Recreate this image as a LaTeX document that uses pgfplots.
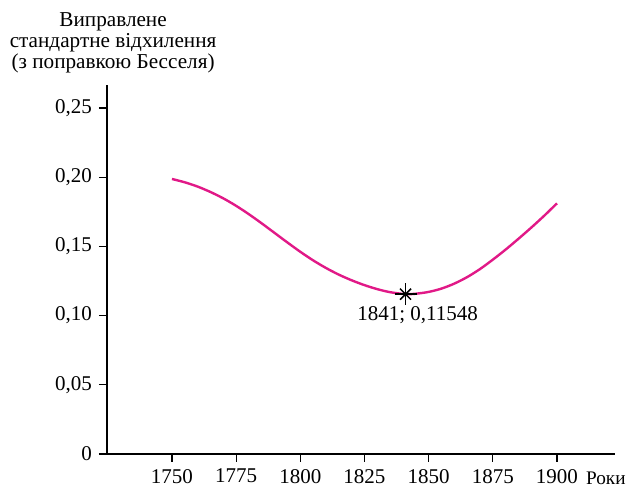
\documentclass[border=0pt]{standalone}
\usepackage{fontspec}
\setmainfont{Liberation Serif}
\usepackage{pgfplots}
\pgfplotsset{compat=1.18}
\definecolor{curve}{RGB}{225,25,135}

\begin{document}
\begin{tikzpicture}
\begin{axis}[
  name=ax,
  scale only axis,
  width=254pt,
  height=184.5pt,
  xmin=1724.7, xmax=1922.6,
  ymin=0, ymax=0.2666,
  axis lines=left,
  axis line style={-, line width=0.6pt},
  tick style={black, line width=0.6pt},
  tick align=outside,
  major tick length=4pt,
  xtick={1750,1775,1800,1825,1850,1875,1900},
  xticklabels={1750,1775,1800,1825,1850,1875,1900},
  ytick={0,0.05,0.1,0.15,0.2,0.25},
  yticklabels={0,{0,05},{0,10},{0,15},{0,20},{0,25}},
  tick label style={font=\fontsize{10.5}{12}\selectfont},
  every axis y label/.style={at={(axis description cs:0.012,1)}, anchor=south,
    yshift=2.5pt, align=center, font=\fontsize{10.6}{10.4}\selectfont},
  ylabel={Виправлене\\стандартне відхилення\\(з поправкою Бесселя)},
  every axis x label/.style={at={(axis description cs:0.982,0)}, anchor=base,
    yshift=-15.5pt, font=\fontsize{9.6}{11}\selectfont},
  xlabel={Роки},
  clip=false,
]
\addplot[curve, line width=1.2pt, smooth] coordinates {
  (1750,0.1987) (1755,0.1963) (1760,0.1932) (1765,0.1893) (1770,0.1847)
  (1775,0.1793) (1780,0.1732) (1785,0.1666) (1790,0.1597) (1795,0.1528)
  (1800,0.1461) (1805,0.1399) (1810,0.1344) (1815,0.1296) (1820,0.1255)
  (1825,0.1220) (1830,0.1191) (1835,0.1169) (1841,0.11548) (1845,0.1158)
  (1850,0.1171) (1855,0.1195) (1860,0.1231) (1865,0.1278) (1870,0.1336)
  (1875,0.1404) (1880,0.1477) (1885,0.1555) (1890,0.1636) (1895,0.1721)
  (1900,0.1811)
};
\addplot[only marks, mark=+, mark size=5.5pt, black, mark options={line width=0.75pt}]
  coordinates {(1841,0.11548)};
\addplot[only marks, mark=x, mark size=3.9pt, black, mark options={line width=0.75pt}]
  coordinates {(1841,0.11548)};
\node[anchor=base, font=\fontsize{10.5}{12}\selectfont, xshift=6pt, yshift=-13pt]
  at (axis cs:1841,0.11548) {1841; 0,11548};
\end{axis}
\pgfresetboundingbox
\path[use as bounding box] ([xshift=-53.5pt,yshift=-19pt]ax.south west)
  rectangle ([xshift=6pt,yshift=42.5pt]ax.north east);
\end{tikzpicture}
\end{document}
